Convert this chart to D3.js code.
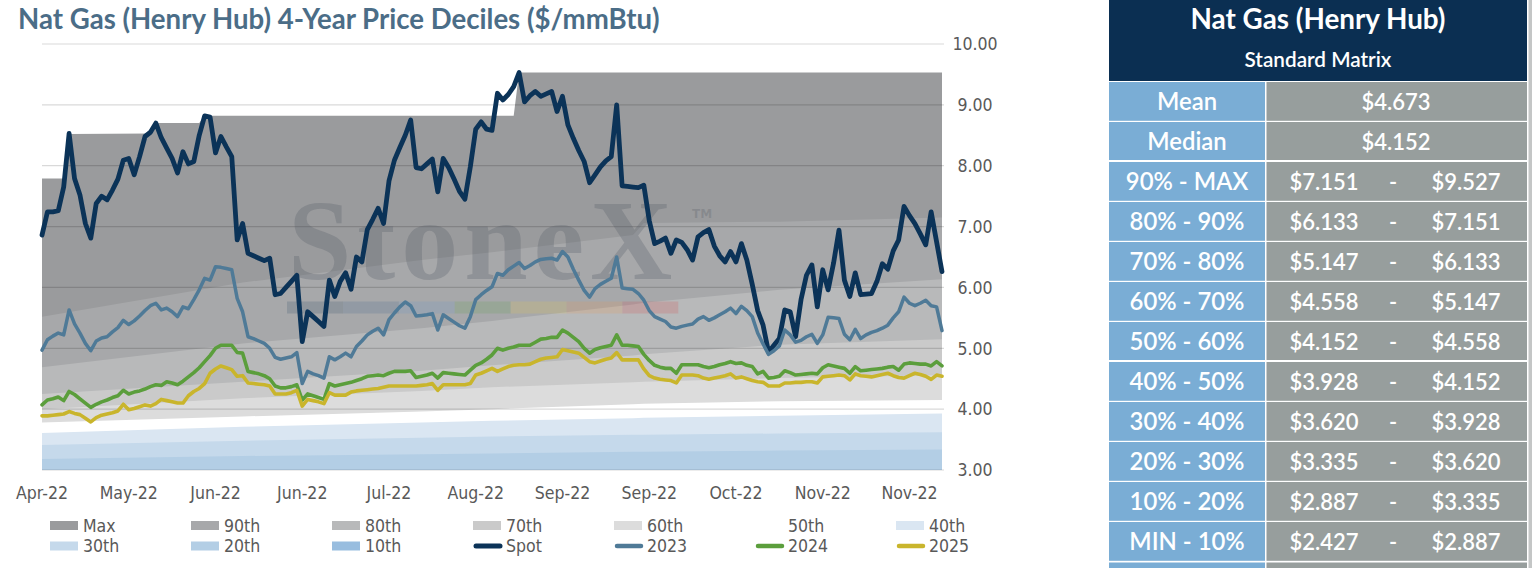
<!DOCTYPE html>
<html><head><meta charset="utf-8">
<script src="https://cdn.jsdelivr.net/npm/d3@7"></script>
<style>html,body{margin:0;padding:0;background:#fff;overflow:hidden}</style>
</head><body>
<svg id="c" width="1532" height="568"></svg>
<script>
// ---------- DATA ----------
const xTickIdx = [0,16,32,48,64,80,96,112,128,144,160];
const xTickLabels = ["Apr-22","May-22","Jun-22","Jun-22","Jul-22","Aug-22","Sep-22","Sep-22","Oct-22","Nov-22","Nov-22"];
const yTicks = [3,4,5,6,7,8,9,10];

const spot = [
6.86,7.24,7.24,7.26,7.65,8.53,7.79,7.52,7.05,6.81,
7.38,7.50,7.44,7.60,7.78,8.09,8.12,7.85,8.15,8.48,
8.55,8.70,8.46,8.29,8.12,7.88,8.23,8.03,8.07,8.50,
8.82,8.80,8.21,8.48,8.31,8.15,6.78,7.05,6.56,6.52,
6.48,6.44,6.48,5.88,5.90,6.00,6.10,6.20,5.11,5.60,
5.52,5.44,5.36,6.12,5.85,6.10,6.24,5.97,6.50,6.42,
6.95,7.12,7.30,7.05,7.75,8.09,8.30,8.50,8.75,7.97,
7.95,8.03,8.11,7.57,8.12,7.97,7.78,7.58,7.45,7.98,
8.60,8.72,8.60,8.58,9.19,9.08,9.17,9.30,9.53,9.05,
9.15,9.22,9.14,9.18,9.22,8.89,9.14,8.67,8.45,8.25,
8.07,7.72,7.85,7.98,8.08,8.15,9.00,7.67,7.66,7.65,
7.64,7.68,7.10,6.72,6.76,6.81,6.56,6.78,6.74,6.62,
6.45,6.83,6.90,6.95,6.68,6.52,6.42,6.59,6.42,6.72,
6.45,6.05,5.62,5.38,4.94,5.05,5.16,5.63,5.60,5.19,
5.80,6.20,6.37,5.68,6.29,5.96,6.40,6.94,6.12,5.85,
6.24,5.88,5.89,5.90,6.10,6.39,6.30,6.60,6.78,7.33,
7.18,7.05,6.88,6.70,7.24,6.75,6.26];

const y2023 = [
4.97,5.14,5.20,5.25,5.22,5.63,5.40,5.25,5.08,4.96,
5.12,5.17,5.19,5.27,5.34,5.46,5.39,5.45,5.53,5.62,
5.70,5.74,5.63,5.66,5.60,5.52,5.68,5.65,5.80,5.96,
6.15,6.12,6.34,6.33,6.31,6.29,5.82,5.60,5.19,5.16,
5.12,5.08,5.00,4.85,4.82,4.84,4.86,4.93,4.42,4.62,
4.58,4.55,4.51,4.86,4.81,4.86,4.92,4.86,5.03,5.12,
5.22,5.28,5.33,5.22,5.47,5.58,5.68,5.76,5.70,5.53,
5.54,5.55,5.57,5.30,5.55,5.49,5.43,5.37,5.33,5.52,
5.80,5.88,5.95,6.01,6.23,6.20,6.29,6.35,6.41,6.31,
6.36,6.42,6.46,6.47,6.48,6.45,6.59,6.50,6.30,6.12,
5.95,5.84,5.98,6.05,6.10,6.15,6.50,5.99,5.98,5.97,
5.90,5.79,5.62,5.52,5.48,5.44,5.35,5.33,5.36,5.38,
5.40,5.48,5.52,5.46,5.50,5.55,5.60,5.66,5.57,5.69,
5.62,5.52,5.25,5.07,4.90,4.96,5.04,5.30,5.22,5.10,
5.13,5.19,5.23,5.08,5.22,5.51,5.50,5.49,5.23,5.14,
5.31,5.16,5.22,5.26,5.29,5.33,5.38,5.50,5.60,5.84,
5.74,5.70,5.74,5.79,5.70,5.68,5.29];

const y2024 = [
4.07,4.15,4.17,4.20,4.14,4.29,4.24,4.17,4.10,4.03,
4.08,4.12,4.15,4.19,4.22,4.31,4.25,4.28,4.30,4.33,
4.37,4.40,4.39,4.45,4.43,4.40,4.46,4.53,4.60,4.68,
4.78,4.88,5.00,5.05,5.05,5.05,4.93,4.92,4.62,4.60,
4.58,4.55,4.50,4.38,4.35,4.35,4.37,4.40,4.15,4.25,
4.22,4.19,4.16,4.42,4.38,4.40,4.42,4.44,4.47,4.50,
4.54,4.55,4.56,4.55,4.59,4.62,4.62,4.62,4.63,4.52,
4.54,4.56,4.59,4.51,4.60,4.59,4.58,4.57,4.56,4.64,
4.72,4.76,4.82,4.89,5.00,4.97,5.00,5.02,5.05,5.05,
5.05,5.10,5.15,5.16,5.18,5.18,5.30,5.25,5.18,5.11,
5.00,4.92,4.98,5.01,5.03,5.05,5.22,5.05,5.05,5.04,
5.03,4.90,4.80,4.72,4.69,4.67,4.67,4.59,4.73,4.73,
4.73,4.73,4.70,4.68,4.70,4.73,4.75,4.78,4.75,4.76,
4.72,4.70,4.58,4.62,4.51,4.52,4.54,4.63,4.60,4.56,
4.57,4.58,4.59,4.58,4.68,4.73,4.71,4.69,4.67,4.59,
4.70,4.63,4.64,4.65,4.66,4.67,4.69,4.70,4.64,4.74,
4.76,4.75,4.74,4.74,4.71,4.78,4.71];

const y2025 = [
3.89,3.89,3.90,3.91,3.92,3.96,3.93,3.91,3.85,3.79,
3.86,3.90,3.92,3.94,3.97,4.08,3.99,4.01,4.04,4.07,
4.05,4.09,4.16,4.14,4.12,4.10,4.10,4.22,4.29,4.34,
4.42,4.59,4.66,4.71,4.68,4.65,4.54,4.55,4.43,4.42,
4.41,4.40,4.38,4.25,4.25,4.25,4.27,4.31,4.05,4.16,
4.14,4.12,4.09,4.27,4.23,4.23,4.23,4.28,4.30,4.31,
4.32,4.33,4.34,4.36,4.38,4.38,4.38,4.38,4.38,4.38,
4.39,4.40,4.42,4.31,4.40,4.40,4.40,4.40,4.40,4.42,
4.56,4.59,4.63,4.67,4.62,4.66,4.70,4.72,4.73,4.73,
4.74,4.78,4.82,4.84,4.85,4.86,4.98,4.96,4.94,4.92,
4.85,4.78,4.76,4.79,4.82,4.84,4.93,4.81,4.81,4.81,
4.81,4.66,4.55,4.51,4.49,4.48,4.47,4.43,4.56,4.56,
4.56,4.55,4.51,4.49,4.51,4.53,4.55,4.58,4.51,4.53,
4.50,4.47,4.45,4.44,4.38,4.38,4.38,4.43,4.43,4.44,
4.44,4.45,4.45,4.43,4.53,4.54,4.55,4.56,4.55,4.48,
4.58,4.55,4.54,4.53,4.55,4.57,4.59,4.55,4.52,4.51,
4.55,4.59,4.57,4.54,4.49,4.56,4.54];

// decile bands (values at knot indices)
const maxIdx = [0,4,5,20,21,29,30,87,88,166];
const maxVal = [7.79,7.79,8.52,8.53,8.70,8.70,8.82,8.82,9.53,9.53];
const bandIdx = [0,37,70,83,109,111,136,166];
const p90  = [5.52,6.08,6.45,6.58,6.86,7.06,7.08,7.151];
const p80  = [4.69,5.08,5.33,5.45,5.72,5.75,5.96,6.133];
const p70  = [4.25,4.45,4.63,4.72,4.88,4.90,5.06,5.147];
const p60  = [4.00,4.18,4.30,4.36,4.44,4.45,4.51,4.558];
const p50  = [3.78,3.88,3.96,4.00,4.08,4.09,4.13,4.152];
const p40  = [3.61,3.71,3.78,3.81,3.85,3.86,3.89,3.928];
const p30  = [3.41,3.48,3.53,3.55,3.58,3.58,3.60,3.620];
const p20  = [3.18,3.23,3.26,3.27,3.30,3.30,3.32,3.335];
const p10  = [2.80,2.84,2.85,2.86,2.87,2.87,2.88,2.887];
const pMin = [2.43,2.43,2.43,2.43,2.43,2.43,2.43,2.427];

const legendNames = ["Max","90th","80th","70th","60th","50th","40th","30th","20th","10th","Spot","2023","2024","2025"];

const tableTitle = "Nat Gas (Henry Hub)";
const tableSubtitle = "Standard Matrix";
const tableLabels = ["Mean","Median","90% - MAX","80% - 90%","70% - 80%","60% - 70%","50% - 60%","40% - 50%","30% - 40%","20% - 30%","10% - 20%","MIN - 10%"];
const tableLow  = [4.673,4.152,7.151,6.133,5.147,4.558,4.152,3.928,3.620,3.335,2.887,2.427];
const tableHigh = [null,null,9.527,7.151,6.133,5.147,4.558,4.152,3.928,3.620,3.335,2.887];

const chartTitle = "Nat Gas (Henry Hub) 4-Year Price Deciles ($/mmBtu)";

// ---------- STYLE ----------
const colors = {
  "Max":"#9a9b9d","90th":"#a7a8aa","80th":"#b8b9ba","70th":"#cacaca","60th":"#dcdcdc",
  "50th":"#ffffff","40th":"#dae6f2","30th":"#c5d9eb","20th":"#b3cee5","10th":"#98bddf",
  "Spot":"#0b3358","2023":"#4f7a97","2024":"#5b9e3c","2025":"#c9b52c"
};
const narrow = "'Liberation Sans Narrow','DejaVu Sans Condensed','Roboto Condensed',sans-serif";
const roundF = "Lato,'Open Sans','Noto Sans',sans-serif";

const svg = d3.select("#c");

function measure(txt, fam, wt, size, ls){
  const t = svg.append("text").attr("font-family",fam).attr("font-weight",wt)
    .attr("font-size",size).text(txt);
  if (ls) t.attr("letter-spacing", ls);
  const w = t.node().getComputedTextLength(); t.remove(); return w;
}
function fit(txt, fam, wt, target){ return 40*target/measure(txt,fam,wt,40); }

// ---------- SCALES ----------
const x = d3.scaleLinear().domain([0, spot.length-1]).range([42, 942]);
const y = d3.scaleLinear().domain([3, 10]).range([470, 44]);

// ---------- BANDS ----------
svg.append("defs").append("clipPath").attr("id","plot")
  .append("rect").attr("x",42).attr("y",44).attr("width",900).attr("height",426);

const bands = [
  {name:"Max", idx:maxIdx, v:maxVal},
  {name:"90th", idx:bandIdx, v:p90},
  {name:"80th", idx:bandIdx, v:p80},
  {name:"70th", idx:bandIdx, v:p70},
  {name:"60th", idx:bandIdx, v:p60},
  {name:"50th", idx:bandIdx, v:p50},
  {name:"40th", idx:bandIdx, v:p40},
  {name:"30th", idx:bandIdx, v:p30},
  {name:"20th", idx:bandIdx, v:p20},
  {name:"10th", idx:bandIdx, v:p10},
  {name:"none", idx:bandIdx, v:pMin}
];
const area = d3.area().x(d=>x(d[0])).y0(y(1)).y1(d=>y(d[1]));
const gB = svg.append("g").attr("clip-path","url(#plot)");
bands.forEach(b=>{
  gB.append("path").datum(b.idx.map((k,i)=>[k,b.v[i]]))
    .attr("d", area).attr("fill", b.name==="none" ? "#ffffff" : colors[b.name]);
});

// ---------- GRID ----------
svg.append("g").selectAll("line").data(yTicks).join("line")
  .attr("x1",42).attr("x2",944).attr("y1",d=>y(d)).attr("y2",d=>y(d))
  .attr("stroke","rgba(0,0,0,0.15)").attr("stroke-width",1.2);

// ---------- WATERMARK ----------
const wm = svg.append("g");
const wmFont = "'Liberation Serif','DejaVu Serif',serif";
const wmSize = 114;
const wmW = measure("StoneX", wmFont, 700, wmSize);
const wmLs = Math.max(0, (388 - wmW)/5.6);
wm.append("text").attr("x",288).attr("y",279).attr("font-family",wmFont).attr("font-size",wmSize)
  .attr("font-weight",700).attr("letter-spacing",wmLs)
  .attr("fill","#4e5560").attr("fill-opacity",0.26).text("StoneX");
wm.append("text").attr("x",692).attr("y",218).attr("font-family","DejaVu Sans,sans-serif")
  .attr("font-size",12).attr("font-weight",700).attr("fill","#4e5560").attr("fill-opacity",0.25).text("TM");
const wmBar = ["#2f4a66","#3f628c","#6a98c6","#5e9f4c","#e5c84a","#eb9550","#d8474c"];
wm.selectAll("rect").data(wmBar).join("rect")
  .attr("x",(d,i)=>287+i*55.9).attr("y",301.5).attr("width",55.9).attr("height",12)
  .attr("fill",d=>d).attr("fill-opacity",0.2);

// ---------- LINES ----------
const line = d3.line().x((d,i)=>x(i)).y(d=>y(d)).curve(d3.curveLinear);
[["Spot",spot,4.8],["2023",y2023,3.5],["2024",y2024,3.6],["2025",y2025,3.6]].forEach(([n,arr,w])=>{
  svg.append("path").datum(arr).attr("d",line).attr("fill","none")
    .attr("stroke",colors[n]).attr("stroke-width",w).attr("stroke-linejoin","round").attr("stroke-linecap","round");
});

// ---------- AXES TEXT ----------
const axSize = fit("Apr-22", narrow, 400, 52);
svg.append("g").selectAll("text").data(yTicks).join("text")
  .attr("x",975).attr("y",d=>y(d)).attr("dy","0.36em").attr("text-anchor","middle")
  .attr("font-family",narrow).attr("font-size",axSize).attr("fill","#595959")
  .text(d=>d3.format(".2f")(d));
svg.append("g").selectAll("text").data(xTickIdx).join("text")
  .attr("x",d=>x(d)).attr("y",493).attr("dy","0.36em").attr("text-anchor","middle")
  .attr("font-family",narrow).attr("font-size",axSize).attr("fill","#595959")
  .text((d,i)=>xTickLabels[i]);

// ---------- TITLE ----------
svg.append("text").attr("x",18).attr("y",29)
  .attr("font-family",roundF).attr("font-weight",700)
  .attr("font-size",fit(chartTitle, roundF, 700, 642)).attr("fill","#4b6d87").text(chartTitle);

// ---------- LEGEND ----------
const lg = svg.append("g");
legendNames.forEach((n,i)=>{
  const row = i<7?0:1, col = i%7;
  const sx = 50 + col*141, cy = 525.5 + row*20.5;
  if (i<10){
    lg.append("rect").attr("x",sx).attr("y",cy-4.5).attr("width",28).attr("height",9).attr("fill",colors[n]);
  } else {
    lg.append("line").attr("x1",sx+3).attr("x2",sx+27).attr("y1",cy).attr("y2",cy)
      .attr("stroke",colors[n]).attr("stroke-width",n==="Spot"?5:4.5).attr("stroke-linecap","round");
  }
  lg.append("text").attr("x",sx+33).attr("y",cy).attr("dy","0.36em")
    .attr("font-family",narrow).attr("font-size",axSize).attr("fill","#595959").text(n);
});

// ---------- TABLE ----------
const tb = svg.append("g");
tb.append("rect").attr("x",1109).attr("y",0).attr("width",418).attr("height",81).attr("fill","#0b2f52");
tb.append("rect").attr("x",1528.5).attr("y",0).attr("width",4).attr("height",568).attr("fill","#c4c6c6");
tb.append("text").attr("x",1318).attr("y",29).attr("text-anchor","middle")
  .attr("font-family",roundF).attr("font-weight",700).attr("fill","#fff")
  .attr("font-size",fit(tableTitle, roundF, 700, 255)).text(tableTitle);
tb.append("text").attr("x",1318).attr("y",67).attr("text-anchor","middle")
  .attr("font-family",roundF).attr("font-weight",600).attr("fill","#fff")
  .attr("font-size",fit(tableSubtitle, roundF, 600, 147)).text(tableSubtitle);

const valSize = fit("$7.151", roundF, 600, 69);
const labSize = fit("80% - 90%", roundF, 600, 115);
const money = v => "$" + d3.format(".3f")(v);
tableLabels.forEach((lab,i)=>{
  const top = 82 + i*40;
  const h = (i===1 || i===6) ? 38 : 38.8;
  tb.append("rect").attr("x",1109).attr("y",top).attr("width",156).attr("height",h).attr("fill","#7aadd5");
  tb.append("rect").attr("x",1266.5).attr("y",top).attr("width",260.5).attr("height",h).attr("fill","#979e9d");
  const ty = top + 28;
  tb.append("text").attr("x",1187).attr("y",ty).attr("text-anchor","middle")
    .attr("font-family",roundF).attr("font-weight",600).attr("font-size",labSize).attr("fill","#fff").text(lab);
  if (tableHigh[i]===null){
    tb.append("text").attr("x",1396).attr("y",ty).attr("text-anchor","middle")
      .attr("font-family",roundF).attr("font-weight",600).attr("font-size",valSize).attr("fill","#fff").text(money(tableLow[i]));
  } else {
    tb.append("text").attr("x",1324).attr("y",ty).attr("text-anchor","middle")
      .attr("font-family",roundF).attr("font-weight",600).attr("font-size",valSize).attr("fill","#fff").text(money(tableLow[i]));
    tb.append("text").attr("x",1393).attr("y",ty).attr("text-anchor","middle")
      .attr("font-family",roundF).attr("font-weight",600).attr("font-size",valSize).attr("fill","#fff").text("-");
    tb.append("text").attr("x",1466).attr("y",ty).attr("text-anchor","middle")
      .attr("font-family",roundF).attr("font-weight",600).attr("font-size",valSize).attr("fill","#fff").text(money(tableHigh[i]));
  }
});
tb.append("rect").attr("x",1109).attr("y",562.5).attr("width",156).attr("height",10).attr("fill","#7aadd5");
tb.append("rect").attr("x",1266.5).attr("y",562.5).attr("width",260.5).attr("height",10).attr("fill","#979e9d");
</script>
</body></html>
